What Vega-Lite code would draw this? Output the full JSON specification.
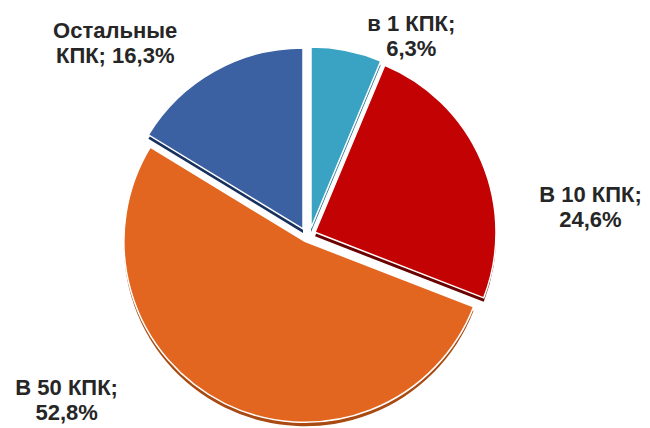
{
  "$schema": "https://vega.github.io/schema/vega-lite/v6.json",
  "width": 616,
  "height": 386,
  "autosize": {"type": "none"},
  "padding": {"left": 0, "top": 42, "right": 34, "bottom": 0},
  "background": "white",
  "config": {"view": {"stroke": null}},
  "data": {
    "values": [
      {"idx": 1, "k": "a", "share": 6.3, "label": "в 1 КПК;\n6,3%"},
      {"idx": 2, "k": "b", "share": 24.6, "label": "В 10 КПК;\n24,6%"},
      {"idx": 3, "k": "c", "share": 52.8, "label": "В 50 КПК;\n52,8%"},
      {"idx": 4, "k": "d", "share": 16.3, "label": "Остальные\nКПК; 16,3%"}
    ]
  },
  "encoding": {
    "theta": {"field": "share", "type": "quantitative", "stack": true},
    "order": {"field": "idx", "type": "quantitative"}
  },
  "layer": [
    {"mark": {"type": "arc", "outerRadius": 181, "fill": "#1f6f8a", "xOffset": 3, "yOffset": -2.9},
     "encoding": {"opacity": {"condition": {"test": "datum.k == 'a'", "value": 1}, "value": 0}}},
    {"mark": {"type": "arc", "outerRadius": 181, "fill": "#6a0000", "xOffset": 7, "yOffset": 1.3},
     "encoding": {"opacity": {"condition": {"test": "datum.k == 'b'", "value": 1}, "value": 0}}},
    {"mark": {"type": "arc", "outerRadius": 181, "fill": "#a84a12", "xOffset": -3.1, "yOffset": 10.3},
     "encoding": {"opacity": {"condition": {"test": "datum.k == 'c'", "value": 1}, "value": 0}}},
    {"mark": {"type": "arc", "outerRadius": 181, "fill": "#17305e", "xOffset": -5, "yOffset": -2.1},
     "encoding": {"opacity": {"condition": {"test": "datum.k == 'd'", "value": 1}, "value": 0}}},
    {"mark": {"type": "arc", "outerRadius": 181, "fill": "#3aa3c3", "stroke": "white", "strokeWidth": 1.5, "xOffset": 3, "yOffset": -6.9},
     "encoding": {"opacity": {"condition": {"test": "datum.k == 'a'", "value": 1}, "value": 0}}},
    {"mark": {"type": "arc", "outerRadius": 181, "fill": "#c30303", "stroke": "white", "strokeWidth": 1.5, "xOffset": 7, "yOffset": -2.7},
     "encoding": {"opacity": {"condition": {"test": "datum.k == 'b'", "value": 1}, "value": 0}}},
    {"mark": {"type": "arc", "outerRadius": 181, "fill": "#e2661f", "stroke": "white", "strokeWidth": 1.5, "xOffset": -3.1, "yOffset": 6.3},
     "encoding": {"opacity": {"condition": {"test": "datum.k == 'c'", "value": 1}, "value": 0}}},
    {"mark": {"type": "arc", "outerRadius": 181, "fill": "#3b61a3", "stroke": "white", "strokeWidth": 1.5, "xOffset": -5, "yOffset": -6.1},
     "encoding": {"opacity": {"condition": {"test": "datum.k == 'd'", "value": 1}, "value": 0}}},
    {"mark": {"type": "text", "radius": 220, "dx": 60, "dy": 4.5, "lineBreak": "\n", "font": "Liberation Sans", "fontWeight": "bold", "fontSize": 22, "lineHeight": 25, "align": "center", "baseline": "middle", "fill": "#262626"},
     "encoding": {"text": {"condition": {"test": "datum.k == 'a'", "field": "label"}, "value": ""}}},
    {"mark": {"type": "text", "radius": 220, "dx": 80, "dy": 46.5, "lineBreak": "\n", "font": "Liberation Sans", "fontWeight": "bold", "fontSize": 22, "lineHeight": 25, "align": "center", "baseline": "middle", "fill": "#262626"},
     "encoding": {"text": {"condition": {"test": "datum.k == 'b'", "field": "label"}, "value": ""}}},
    {"mark": {"type": "text", "radius": 220, "dx": -144, "dy": -44.5, "lineBreak": "\n", "font": "Liberation Sans", "fontWeight": "bold", "fontSize": 22, "lineHeight": 25, "align": "center", "baseline": "middle", "fill": "#262626"},
     "encoding": {"text": {"condition": {"test": "datum.k == 'c'", "field": "label"}, "value": ""}}},
    {"mark": {"type": "text", "radius": 220, "dx": -85, "dy": -12.5, "lineBreak": "\n", "font": "Liberation Sans", "fontWeight": "bold", "fontSize": 22, "lineHeight": 25, "align": "center", "baseline": "middle", "fill": "#262626"},
     "encoding": {"text": {"condition": {"test": "datum.k == 'd'", "field": "label"}, "value": ""}}}
  ]
}
